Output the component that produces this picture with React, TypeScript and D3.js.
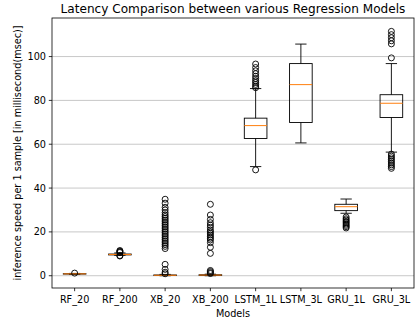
import React from 'react';
import * as d3 from 'd3';

const models = ['RF_20', 'RF_200', 'XB_20', 'XB_200', 'LSTM_1L', 'LSTM_3L', 'GRU_1L', 'GRU_3L'];

// [whisker low, q1, median, q3, whisker high]
const boxStats: number[][] = [
  [0.6, 0.75, 0.85, 0.95, 1.05],
  [9.3, 9.5, 9.7, 9.9, 10.4],
  [0.0, 0.1, 0.2, 0.35, 0.6],
  [0.0, 0.15, 0.3, 0.45, 0.7],
  [49.8, 62.6, 68.5, 71.9, 85.4],
  [60.6, 69.9, 87.2, 96.8, 105.7],
  [28.5, 29.7, 31.5, 32.6, 35.0],
  [56.4, 72.2, 78.7, 82.6, 96.8],
];

const outliers: number[][] = [
  [1.2],
  [9.0, 9.2, 10.6, 10.9, 11.2, 11.5],
  [0.9, 1.6, 2.9, 5.2, 12.4, 13.4, 14.2, 15.0, 15.8, 16.6, 17.4, 18.2, 19.0, 19.8, 20.6, 21.4,
    22.2, 23.0, 23.8, 24.6, 25.4, 26.2, 27.0, 27.8, 28.8, 30.0, 31.2, 33.1, 34.9],
  [1.0, 1.4, 1.9, 2.4, 10.2, 13.0, 15.1, 16.3, 17.1, 17.8, 18.6, 19.4, 20.1, 20.9, 22.1, 23.1,
    24.2, 25.7, 27.7, 32.6],
  [48.3, 85.8, 86.5, 87.3, 88.2, 89.0, 90.0, 91.0, 92.2, 93.5, 95.0, 96.6],
  [],
  [21.8, 22.4, 23.0, 23.6, 24.2, 24.8, 25.4, 26.0, 26.8],
  [49.0, 49.8, 50.6, 51.4, 52.2, 53.0, 53.8, 54.6, 55.5, 99.4, 105.8, 107.2, 108.6, 110.0, 111.5],
];

const yTicks = [0, 20, 40, 60, 80, 100];

const W = 417;
const H = 324;
const plot = { left: 52, right: 414, top: 18, bottom: 288 };
const font = '"DejaVu Sans", sans-serif';

export default function App() {
  const x = d3.scaleBand<string>().domain(models).range([plot.left, plot.right]).padding(0);
  const y = d3.scaleLinear().domain([-5.6, 117.6]).range([plot.bottom, plot.top]);
  const boxW = x.bandwidth() * 0.5;
  const capW = boxW * 0.5;

  return (
    <svg width={W} height={H} style={{ position: 'absolute', left: 0, top: 0, background: '#fff' }}>
      <rect x={0} y={0} width={W} height={H} fill="#fff" />
      {/* grid */}
      {yTicks.map(t => (
        <line key={t} x1={plot.left} x2={plot.right} y1={y(t)} y2={y(t)} stroke="#c8c8c8" strokeWidth={1} />
      ))}

      {/* boxes */}
      {models.map((m, i) => {
        const cx = x(m)! + x.bandwidth() / 2;
        const [lo, q1, med, q3, hi] = boxStats[i];
        return (
          <g key={m} stroke="#000" strokeWidth={0.9} fill="none">
            <line x1={cx} x2={cx} y1={y(q1)} y2={y(lo)} />
            <line x1={cx} x2={cx} y1={y(q3)} y2={y(hi)} />
            <line x1={cx - capW / 2} x2={cx + capW / 2} y1={y(lo)} y2={y(lo)} />
            <line x1={cx - capW / 2} x2={cx + capW / 2} y1={y(hi)} y2={y(hi)} />
            <rect x={cx - boxW / 2} y={y(q3)} width={boxW} height={Math.max(0.1, y(q1) - y(q3))} />
            <line x1={cx - boxW / 2} x2={cx + boxW / 2} y1={y(med)} y2={y(med)} stroke="#ff7f0e" strokeWidth={1} />
            {outliers[i].map((v, k) => (
              <circle key={k} cx={cx} cy={y(v)} r={3} stroke="#000" strokeWidth={0.9} fill="none" />
            ))}
          </g>
        );
      })}

      {/* spines */}
      <rect x={plot.left} y={plot.top} width={plot.right - plot.left} height={plot.bottom - plot.top}
        fill="none" stroke="#000" strokeWidth={0.8} />

      {/* y axis */}
      {yTicks.map(t => (
        <g key={t}>
          <line x1={plot.left - 3.2} x2={plot.left} y1={y(t)} y2={y(t)} stroke="#000" strokeWidth={0.8} />
          <text x={plot.left - 6} y={y(t)} dy="0.36em" textAnchor="end" fontFamily={font} fontSize={9.7} fill="#000">{t}</text>
        </g>
      ))}

      {/* x axis */}
      {models.map(m => {
        const cx = x(m)! + x.bandwidth() / 2;
        return (
          <g key={m}>
            <line x1={cx} x2={cx} y1={plot.bottom} y2={plot.bottom + 3.2} stroke="#000" strokeWidth={0.8} />
            <text x={cx} y={302.5} textAnchor="middle" fontFamily={font} fontSize={9.7} fill="#000">{m}</text>
          </g>
        );
      })}

      <text x={(plot.left + plot.right) / 2} y={316.5} textAnchor="middle" fontFamily={font} fontSize={9.7} fill="#000">Models</text>
      <text transform={`translate(20.5, ${(plot.top + plot.bottom) / 2}) rotate(-90)`} textAnchor="middle"
        fontFamily={font} fontSize={9.7} fill="#000">inference speed per 1 sample [in millisecond(msec)]</text>
      <text x={(plot.left + plot.right) / 2} y={12.8} textAnchor="middle" fontFamily={font} fontSize={12.1} fill="#000">
        Latency Comparison between various Regression Models
      </text>
    </svg>
  );
}
